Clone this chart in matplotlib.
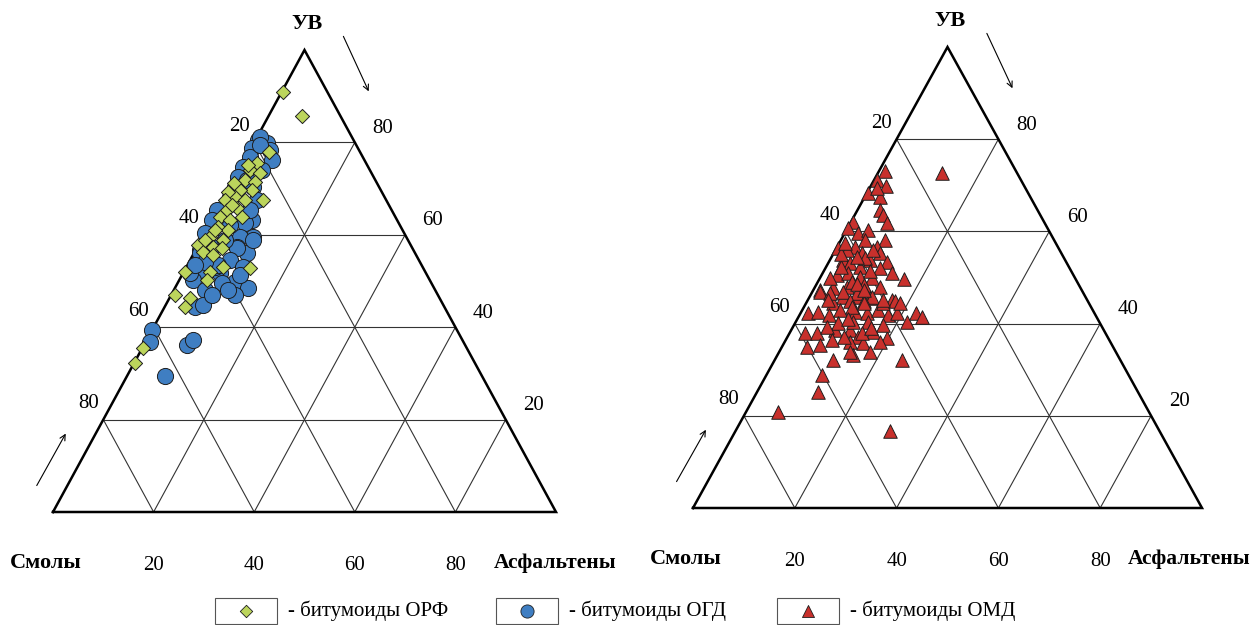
import matplotlib.pyplot as plt
from matplotlib.patches import Rectangle

plt.rcParams['font.family'] = ['Liberation Serif', 'DejaVu Serif']

# состав: УВ (%) и асфальтены (%); смолы = 100 - УВ - асфальтены
# битумоиды ОРФ (ромбы)
orf_uv = [90.9, 85.7, 77.9, 75.5, 74.0, 73.4, 71.9, 71.4, 69.7, 69.7, 68.2, 67.5,
          67.5, 69.3, 67.5, 65.8, 65.4, 63.9, 63.2, 63.9, 61.7, 61.0, 59.5, 58.9,
          57.4, 57.1, 57.8, 56.3, 51.9, 47.0, 46.3, 44.4, 51.9, 53.0, 52.8, 50.2,
          55.6, 35.5, 32.3, 75.1, 71.2, 66.5, 61.0, 58.9]
orf_asf = [0.3, 6.6, 4.0, 2.85, 2.2, 4.5, 2.25, 4.5, 4.75, 2.35, 2.1, 4.45,
           8.05, 0.2, 0.45, 3.7, 1.9, 1.25, 3.6, 5.65, 1.95, 4.3, 1.45, 4.35,
           3.1, 5.05, 0.0, 1.65, 0.2, 0.8, 4.05, 4.0, 5.25, 7.3, 12.8, 5.5,
           4.0, 0.2, 0.2, 1.25, 0.4, 2.35, 1.7, 0.75]

# битумоиды ОГД (круги)
ogd_uv = [80.5, 79.9, 78.8, 78.4, 76.2, 76.8, 74.7, 72.5, 70.3, 70.3, 68.2, 67.5,
          65.4, 65.4, 63.2, 63.2, 62.6, 60.4, 59.5, 59.5, 56.7, 57.4, 56.1, 57.4,
          58.9, 57.1, 56.1, 54.5, 53.0, 52.4, 51.7, 50.2, 49.8, 49.6, 48.1, 48.5,
          47.0, 44.4, 44.8, 39.4, 36.8, 36.1, 37.2, 29.4, 55.0, 51.7, 53.0, 81.2,
          79.4, 74.0, 71.9, 65.4, 62.1, 58.9, 53.5, 51.3, 48.1, 47.0, 54.1, 53.5]
ogd_asf = [0.5, 2.6, 0.2, 3.9, 5.4, 0.8, 0.5, 0.6, 1.0, 4.7, 1.1, 6.9,
           1.1, 0.0, 8.0, 0.0, 6.9, 0.0, 10.0, 7.5, 0.9, 7.9, 10.5, 2.9,
           10.4, 8.0, 1.2, 8.0, 11.3, 3.0, 7.4, 2.7, 11.3, 8.8, 6.2, 14.6,
           12.7, 6.0, 7.4, 0.0, 0.9, 8.6, 9.2, 7.6, 3.7, 1.4, 5.7, 0.5,
           1.5, 4.6, 2.6, 6.5, 4.2, 4.8, 6.0, 11.6, 10.8, 8.1, 3.2, 1.5]

# битумоиды ОМД (треугольники)
omd_uv = [72.6, 73.0, 71.2, 69.9, 68.3, 67.5, 69.4, 64.6, 63.6, 61.8, 62.1, 60.7,
          59.6, 60.3, 58.1, 58.1, 56.3, 56.7, 56.7, 55.3, 55.3, 53.8, 53.1, 53.8,
          53.4, 52.3, 52.0, 50.5, 50.9, 50.2, 50.9, 49.6, 49.8, 47.3, 47.7, 48.0,
          48.4, 48.0, 45.8, 45.8, 45.5, 45.1, 44.4, 46.9, 46.9, 46.6, 45.8, 42.2,
          42.6, 41.9, 43.0, 42.6, 42.2, 43.0, 41.9, 42.2, 40.4, 42.2, 41.5, 37.9,
          37.9, 38.6, 38.6, 37.2, 38.2, 36.8, 40.1, 40.4, 40.4, 39.7, 35.0, 35.4,
          36.1, 33.2, 35.7, 33.9, 32.1, 32.1, 28.9, 25.2, 20.9, 16.6,
          46.6, 49.1, 44.8, 44.4, 44.8, 52.3, 54.2, 56.0, 54.5, 56.0,
          45.1, 44.8, 44.4, 45.1, 44.4, 39.3, 37.2, 36.1, 37.9, 33.9,
          50.0, 48.6, 47.2, 43.5, 41.0, 39.0, 36.5, 51.5, 55.0, 57.5]
omd_asf = [12.6, 1.2, 0.5, 3.0, 0.3, 3.0, 1.4, 4.4, 5.6, 7.2, 0.3, 0.2,
           2.7, 4.3, 4.7, 8.7, 0.4, 7.8, 3.5, 9.1, 5.5, 2.6, 4.3, 7.9,
           11.4, 6.6, 10.7, 3.0, 5.1, 7.7, 13.6, 16.7, 10.2, 1.3, 3.7, 6.2,
           9.3, 12.7, 6.6, 9.3, 12.0, 16.5, 5.4, 1.5, 6.1, 8.9, 12.2, 1.5,
           3.3, 5.7, 7.4, 10.5, 13.0, 14.9, 17.4, 18.9, 21.8, 22.8, 24.2, 3.1,
           5.4, 8.6, 11.5, 13.9, 16.3, 19.7, 8.5, 11.3, 14.2, 17.5, 4.9, 7.3,
           12.8, 14.9, 15.6, 17.8, 11.5, 25.0, 10.9, 12.0, 6.3, 30.4,
           3.6, 6.6, 11.1, 15.2, 17.3, 3.0, 6.7, 7.4, 4.9, 2.2,
           4.0, 8.5, 11.3, 14.8, 18.5, 6.6, 11.0, 18.7, 14.2, 13.9,
           2.0, 8.0, 10.0, 9.5, 10.0, 15.5, 9.0, 9.0, 1.5, 1.2]

ticks = [20, 40, 60, 80]

green = '#bcd55c'
blue = '#3f7ec2'
red = '#c8302c'
edge = '#1e1e1e'
fs = 15


def tern(uv, asf):
    # УВ вверх, асфальтены вправо
    return [a + u / 2 for u, a in zip(uv, asf)], list(uv)


def frame(ax, asf_x):
    ax.set_xlim(0, 100)
    ax.set_ylim(0, 100)
    ax.axis('off')
    for k in ticks:
        ax.plot([k / 2, 100 - k / 2], [k, k], color='#333333', lw=0.8, zorder=1)
        ax.plot([k, k + (100 - k) / 2], [0, 100 - k], color='#333333', lw=0.8, zorder=1)
        ax.plot([100 - k, (100 - k) / 2], [0, 100 - k], color='#333333', lw=0.8, zorder=1)
        # смолы - левая сторона
        ax.text((100 - k) / 2 - 3, 100 - k + 3.5, str(k), fontsize=fs, ha='center', va='center')
        # УВ - правая сторона
        ax.text(100 - k / 2 + 5.5, k + 3, str(k), fontsize=fs, ha='center', va='center')
        # асфальтены - низ
        ax.text(k, -11.5, str(k), fontsize=fs, ha='center', va='center')
    ax.plot([0, 100, 50, 0], [0, 0, 100, 0], color='black', lw=1.8,
            solid_joinstyle='miter', clip_on=False, zorder=2)
    ax.text(50.5, 105.6, 'УВ', fontsize=16, fontweight='bold', ha='center', va='center')
    ax.text(-1.5, -11, 'Смолы', fontsize=16, fontweight='bold', ha='center', va='center')
    ax.text(asf_x, -11, 'Асфальтены', fontsize=15.5, fontweight='bold', ha='center', va='center')
    ax.annotate('', xy=(63, 90.5), xytext=(57.5, 103.5),
                arrowprops=dict(arrowstyle='->', lw=0.8, color='black'), annotation_clip=False)
    ax.annotate('', xy=(2.8, 17.5), xytext=(-3.5, 5.2),
                arrowprops=dict(arrowstyle='->', lw=0.8, color='black'), annotation_clip=False)


fig = plt.figure(figsize=(12.54, 6.25), dpi=100)

ax1 = fig.add_axes([53 / 1254, (625 - 512) / 625, 503 / 1254, 462 / 625])
frame(ax1, 99.8)
x, y = tern(ogd_uv, ogd_asf)
ax1.scatter(x, y, s=135, marker='o', c=blue, edgecolors=edge, linewidths=0.7, zorder=3, clip_on=False)
x, y = tern(orf_uv, orf_asf)
ax1.scatter(x, y, s=52, marker='D', c=green, edgecolors=edge, linewidths=0.7, zorder=4, clip_on=False)

ax2 = fig.add_axes([693 / 1254, (625 - 508) / 625, 509 / 1254, 461 / 625])
frame(ax2, 97.5)
x, y = tern(omd_uv, omd_asf)
ax2.scatter(x, y, s=95, marker='^', c=red, edgecolors=edge, linewidths=0.7, zorder=3, clip_on=False)

# легенда
lax = fig.add_axes([0, 0, 1, 35 / 625])
lax.set_xlim(0, 1254)
lax.set_ylim(625, 590)
lax.axis('off')
items = [('D', green, 40, '- битумоиды ОРФ'),
         ('o', blue, 90, '- битумоиды ОГД'),
         ('^', red, 75, '- битумоиды ОМД')]
for cx, (m, col, sz, lab) in zip([246, 527, 808], items):
    lax.add_patch(Rectangle((cx - 31, 598), 62, 26, fill=False, ec='#555555', lw=0.8, clip_on=False))
    lax.scatter([cx], [611], s=sz, marker=m, c=col, edgecolors=edge, linewidths=0.6, clip_on=False)
    lax.text(cx + 42, 611, lab, fontsize=fs, ha='left', va='center')

fig.savefig('out.png', dpi=100, facecolor='white')
